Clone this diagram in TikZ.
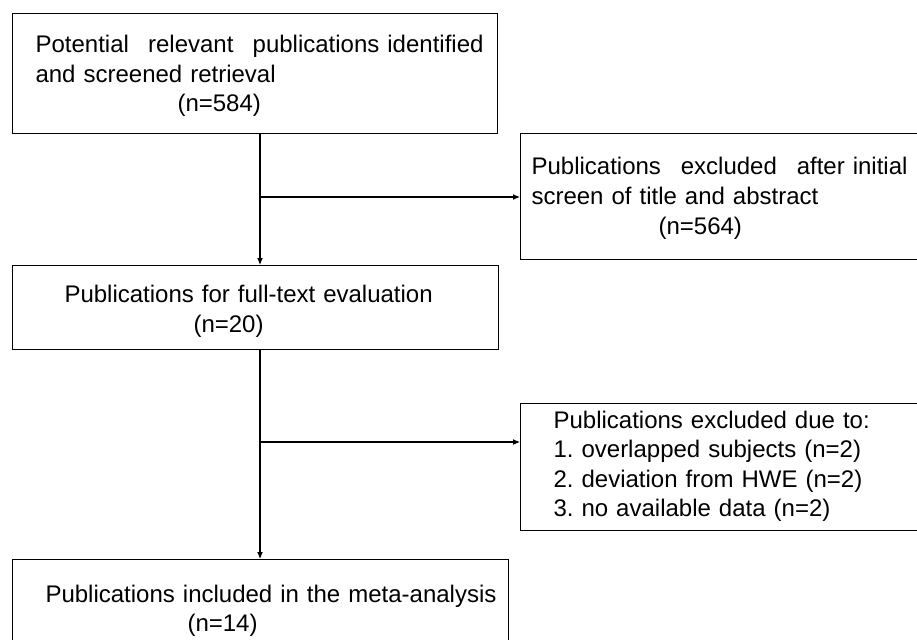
\documentclass[tikz,border=0pt]{standalone}
\usepackage{fontspec}
\setmainfont{Liberation Sans}
\usetikzlibrary{arrows.meta}
\frenchspacing

\begin{document}
\begin{tikzpicture}[x=1pt,y=-1pt,line width=1.1pt,
        >={Latex[length=7pt,width=6pt]},
        box/.style={draw,rectangle,inner sep=0pt,anchor=north west},
        txt/.style={anchor=base west,inner sep=0pt,align=left,
            font=\fontsize{24}{29.5}\selectfont}]
\useasboundingbox (0,0) rectangle (917,639);

\node[box,minimum width=485pt,minimum height=120pt] (ident) at (12,13) {};
\node[box,minimum width=405pt,minimum height=126pt] (excl1) at (520,133) {};
\node[box,minimum width=486pt,minimum height=84pt] (fulltext) at (12,265) {};
\node[box,minimum width=405pt,minimum height=127pt] (excl2) at (520,403) {};
\node[box,minimum width=496pt,minimum height=90pt] (incl) at (12,559) {};

\node[txt,text width=460pt] (identtxt) at (35,53)
    {\makebox[448pt][s]{Potential\hfill relevant\hfill publications identified}\\
     and screened retrieval\\ \hspace*{142pt}(n=584)};
\node[txt,text width=390pt] (excl1txt) at (531,175)
    {\makebox[376pt][s]{Publications\hfill excluded\hfill after initial}\\
     screen of title and abstract\\ \hspace*{127pt}(n=564)};
\node[txt,text width=440pt] (fulltexttxt) at (64,302.5)
    {Publications for full-text evaluation\\ \hspace*{129pt}(n=20)};
\node[txt,text width=370pt] (excl2txt) at (553,428)
    {Publications excluded due to:\\ 1. overlapped subjects (n=2)\\
     2. deviation from HWE (n=2)\\ 3. no available data (n=2)};
\node[txt,text width=490pt] (incltxt) at (45,602)
    {Publications included in the meta-analysis\\ \hspace*{142pt}(n=14)};

\coordinate (spine) at (260,0);
\coordinate (br1) at (260,197);
\coordinate (br2) at (260,442);

\draw[->] (ident.south -| spine) -- (fulltext.north -| spine);
\draw[->] (br1) -- (br1 -| excl1.west);
\draw[->] (fulltext.south -| spine) -- (incl.north -| spine);
\draw[->] (br2) -- (br2 -| excl2.west);

\end{tikzpicture}
\end{document}
